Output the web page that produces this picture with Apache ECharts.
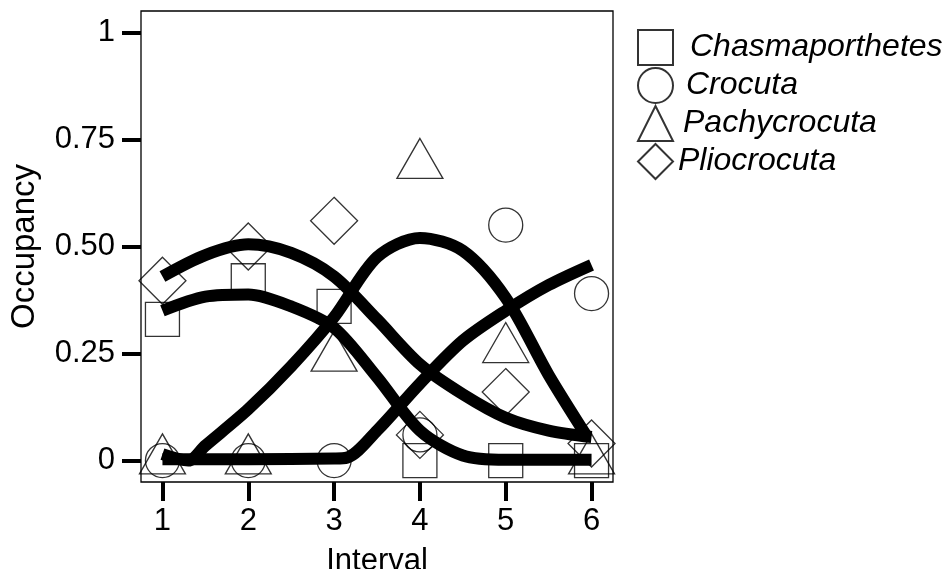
<!DOCTYPE html>
<html>
<head>
<meta charset="utf-8">
<script src="https://cdn.jsdelivr.net/npm/echarts@6/dist/echarts.min.js"></script>
<style>
  html, body { margin: 0; padding: 0; background: #fff; }
  #chart { width: 946px; height: 569px; }
</style>
</head>
<body>
<div id="chart"></div>
<script>
// observed occupancy per interval
var intervals = [1, 2, 3, 4, 5, 6]
var chasmaporthetes = [0.33, 0.42, 0.36, 0, 0, 0]
var crocuta = [0, 0, 0, 0.06, 0.55, 0.39]
var pachycrocuta = [0, 0, 0.24, 0.69, 0.26, 0]
var pliocrocuta = [0.42, 0.50, 0.56, 0.06, 0.16, 0.04]

// fitted curves: x positions and values
var fitChasmX = [1, 1.5, 2, 2.5, 3, 3.5, 4, 4.5, 5, 6]
var fitChasmY = [0.35, 0.383, 0.388, 0.36, 0.31, 0.195, 0.07, 0.012, 0.002, 0.002]
var fitCrocX = [1, 2, 3, 3.15, 3.5, 4, 4.5, 5, 5.5, 6]
var fitCrocY = [0.003, 0.003, 0.005, 0.007, 0.07, 0.18, 0.28, 0.35, 0.41, 0.457]
var fitPachyX = [1, 1.3, 1.5, 2, 2.5, 3, 3.5, 4, 4.5, 5, 5.5, 5.95]
var fitPachyY = [0.015, 0.0, 0.035, 0.12, 0.22, 0.335, 0.475, 0.52, 0.49, 0.38, 0.2, 0.055]
var fitPlioX = [1, 1.5, 2, 2.5, 3, 3.5, 4, 4.5, 5, 5.5, 6]
var fitPlioY = [0.43, 0.48, 0.505, 0.485, 0.43, 0.33, 0.225, 0.155, 0.1, 0.07, 0.055]

var yTicks = [0, 0.25, 0.5, 0.75, 1]
var yTickLabels = ['0', '0.25', '0.50', '0.75', '1']
var legendNames = ['Chasmaporthetes', 'Crocuta', 'Pachycrocuta', 'Pliocrocuta']

function pairs(xs, ys) {
  return xs.map(function (x, i) { return [x, ys[i]] })
}

var font = 'Liberation Sans, Arial, sans-serif'
var hollow = { color: 'rgba(0,0,0,0)', borderColor: '#000', borderWidth: 1.3 }

function pointSeries(name, values, symbol, size, offset) {
  return {
    name: name,
    type: 'scatter',
    symbol: symbol,
    symbolSize: size,
    symbolOffset: offset || [0, 0],
    itemStyle: hollow,
    data: pairs(intervals, values),
    z: 2,
    silent: true
  }
}

function fitSeries(name, xs, ys) {
  return {
    name: name,
    type: 'line',
    showSymbol: false,
    smooth: 0.3,
    lineStyle: { color: '#000', width: 12, cap: 'butt', join: 'round' },
    data: pairs(xs, ys),
    z: 3,
    silent: true
  }
}

// small per-item shifts of the legend text
var legendPad = [12, 8, 5, 0]
var rich = {}
legendNames.forEach(function (n, i) {
  rich['p' + i] = {
    fontSize: 32,
    fontStyle: 'italic',
    fontFamily: font,
    color: '#000',
    lineHeight: 35,
    padding: [0, 0, 0, legendPad[i]]
  }
})

const myChart = echarts.init(document.getElementById('chart'))
myChart.setOption({
  animation: false,
  textStyle: { fontFamily: font, color: '#000' },
  grid: {
    left: 141,
    top: 11,
    width: 472,
    height: 471,
    outerBoundsMode: 'none',
    containLabel: false,
    show: true,
    borderColor: '#000',
    borderWidth: 1.3
  },
  legend: {
    orient: 'vertical',
    left: 637,
    top: 29,
    padding: 0,
    itemWidth: 35,
    itemHeight: 35,
    itemGap: 1,
    textGap: 1,
    textStyle: { fontSize: 32, fontStyle: 'italic', color: '#000', fontFamily: font, rich: rich },
    formatter: function (name) {
      return '{p' + legendNames.indexOf(name) + '|' + name + '}'
    },
    data: legendNames
  },
  xAxis: {
    type: 'value',
    min: 0.75,
    max: 6.25,
    name: 'Interval',
    nameLocation: 'middle',
    nameGap: 64,
    nameTextStyle: { fontSize: 31, color: '#000' },
    splitLine: { show: false },
    axisLine: { show: false, onZero: false },
    axisTick: {
      show: true,
      customValues: intervals,
      length: 19,
      lineStyle: { color: '#000', width: 4 }
    },
    axisLabel: {
      customValues: intervals,
      fontSize: 31,
      color: '#000',
      margin: 24
    }
  },
  yAxis: {
    type: 'value',
    min: -0.05,
    max: 1.05,
    name: 'Occupancy',
    nameLocation: 'middle',
    nameGap: 100,
    nameTextStyle: { fontSize: 33, color: '#000' },
    splitLine: { show: false },
    axisLine: { show: false, onZero: false },
    axisTick: {
      show: true,
      customValues: yTicks,
      length: 19,
      lineStyle: { color: '#000', width: 4 }
    },
    axisLabel: {
      customValues: yTicks,
      fontSize: 31,
      color: '#000',
      margin: 26,
      formatter: function (v) {
        var i = yTicks.indexOf(v)
        return i >= 0 ? yTickLabels[i] : ''
      }
    }
  },
  series: [
    pointSeries('Chasmaporthetes', chasmaporthetes, 'rect', 34),
    pointSeries('Crocuta', crocuta, 'circle', 34),
    pointSeries('Pachycrocuta', pachycrocuta, 'triangle', [46, 40], [0, -6.7]),
    pointSeries('Pliocrocuta', pliocrocuta, 'diamond', 47),
    fitSeries('Chasmaporthetes fit', fitChasmX, fitChasmY),
    fitSeries('Crocuta fit', fitCrocX, fitCrocY),
    fitSeries('Pachycrocuta fit', fitPachyX, fitPachyY),
    fitSeries('Pliocrocuta fit', fitPlioX, fitPlioY)
  ]
})
</script>
</body>
</html>
